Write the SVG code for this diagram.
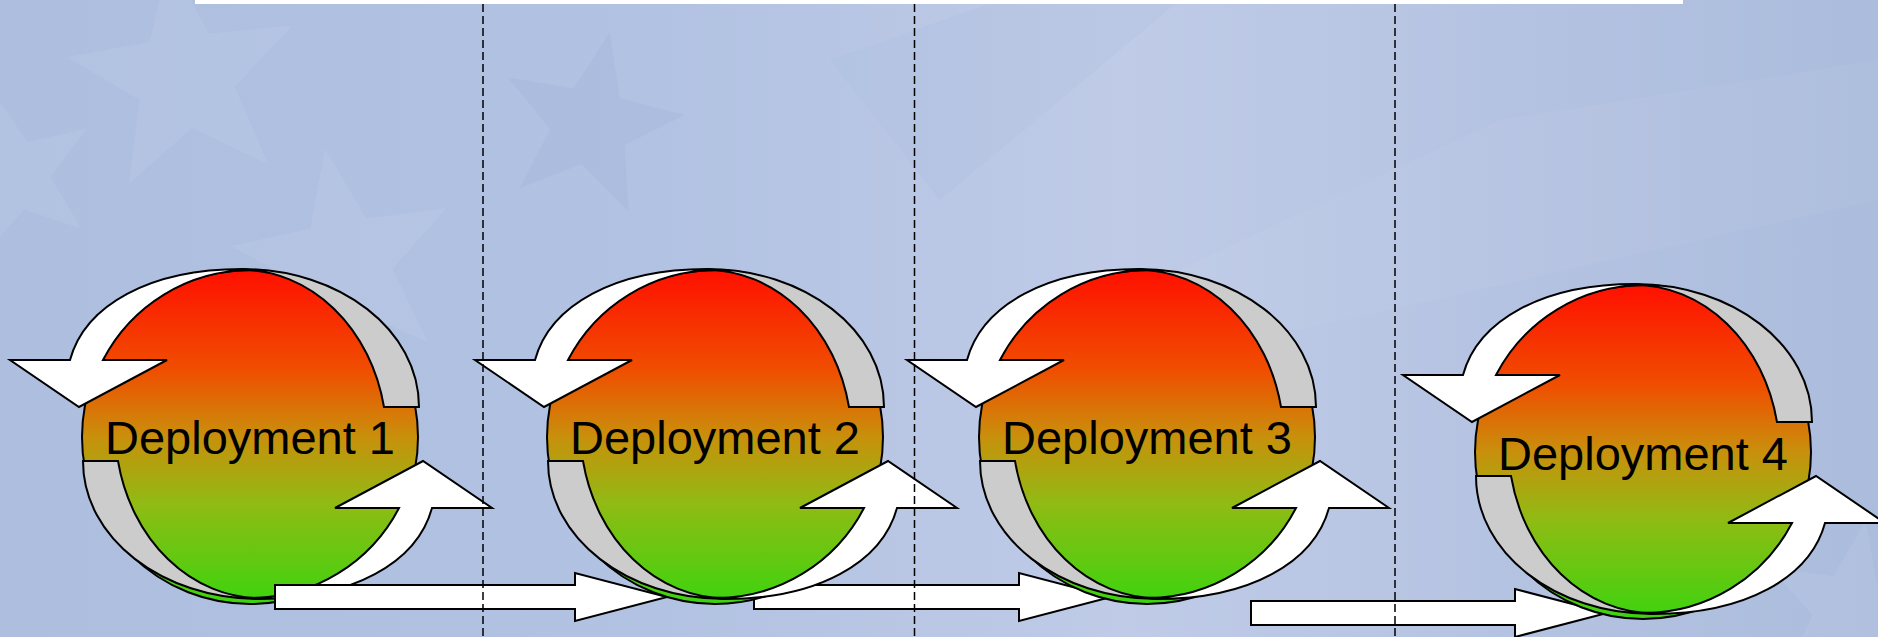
<svg xmlns="http://www.w3.org/2000/svg" xmlns:xlink="http://www.w3.org/1999/xlink" width="1878" height="637" viewBox="0 0 1878 637">
  <defs>
    <linearGradient id="bg" x1="0" y1="0" x2="1" y2="0">
      <stop offset="0" stop-color="#adbedf"/>
      <stop offset="0.35" stop-color="#b2c2e2"/>
      <stop offset="0.6" stop-color="#bfcbe7"/>
      <stop offset="0.8" stop-color="#b5c3e2"/>
      <stop offset="1" stop-color="#abbcdc"/>
    </linearGradient>
    <linearGradient id="ball" x1="0" y1="0" x2="0" y2="1">
      <stop offset="0" stop-color="#ff1000"/>
      <stop offset="0.3" stop-color="#f04e00"/>
      <stop offset="0.5" stop-color="#c8900c"/>
      <stop offset="0.7" stop-color="#90bb14"/>
      <stop offset="1" stop-color="#3cd40e"/>
    </linearGradient>
    <path id="star" d="M0,-1 L0.247,-0.34 L0.951,-0.309 L0.399,0.13 L0.588,0.809 L0,0.42 L-0.588,0.809 L-0.399,0.13 L-0.951,-0.309 L-0.247,-0.34 Z"/>
    <g id="band">
      <path class="white" d="M -8,-168 C -100,-168 -165,-132 -180,-77 L -240,-77 L -171,-30 L -83,-77 L -147,-77 A 167 167 0 0 1 0,-167 Z"/>
      <path class="gray" d="M -8,-168 C 90,-168 169,-107 169,-30 L 134,-30 A 145 170 0 0 0 -8,-167 Z"/>
    </g>
    <style>
      .white { fill: #ffffff; stroke: #000; stroke-width: 2; stroke-linejoin: miter; }
      .gray { fill: #cccccc; stroke: #000; stroke-width: 2; }
      .ball { fill: url(#ball); stroke: #000; stroke-width: 2; }
      .lbl { font-family: "Liberation Sans", Arial, sans-serif; font-size: 47px; fill: #000; text-anchor: middle; }
      .arrow { fill: #ffffff; stroke: #000; stroke-width: 2; }
      .sep { stroke: #000; stroke-width: 1.5; stroke-dasharray: 8 4; fill: none; }
      .lightstar { fill: #ffffff; fill-opacity: 0.07; }
      .darkstar { fill: #8ea2cf; fill-opacity: 0.14; }
    </style>
  </defs>

  <!-- background -->
  <rect x="0" y="0" width="1878" height="637" fill="url(#bg)"/>
  <g id="background-stars">
    <use xlink:href="#star" href="#star" class="lightstar" transform="translate(185,78) rotate(-8) scale(120)"/>
    <use xlink:href="#star" href="#star" class="lightstar" transform="translate(15,175) rotate(-15) scale(85)"/>
    <use xlink:href="#star" href="#star" class="lightstar" transform="translate(345,262) rotate(-10) scale(115)"/>
    <use xlink:href="#star" href="#star" class="darkstar" transform="translate(590,125) rotate(12) scale(95)"/>
    <use xlink:href="#star" href="#star" class="lightstar" transform="translate(1850,610) rotate(10) scale(90)"/>
    <polygon points="830,60 1000,0 1180,0 940,200" fill="#9fb2d8" fill-opacity="0.12"/>
    <polygon points="1050,330 1500,120 1878,60 1878,200 1300,330" fill="#ffffff" fill-opacity="0.04"/>
  </g>

  <!-- top bar -->
  <rect x="195" y="0" width="1488" height="4" fill="#ffffff"/>

  <g id="node1" transform="translate(250,437)">
    <ellipse class="ball" cx="0" cy="0" rx="168" ry="167"/>
    <use xlink:href="#band" href="#band"/>
    <use xlink:href="#band" href="#band" transform="rotate(180 1 -3)"/>
    <text class="lbl" x="0" y="17">Deployment 1</text>
  </g>

  <g id="connectors">
    <path class="arrow" d="M 275,585 L 575,585 L 575,573 L 667,597 L 575,621 L 575,609 L 275,609 Z"/>
    <path class="arrow" d="M 754,585 L 1019,585 L 1019,573 L 1111,597 L 1019,621 L 1019,609 L 754,609 Z"/>
    <path class="arrow" d="M 1251,601 L 1515,601 L 1515,589 L 1607,613 L 1515,637 L 1515,625 L 1251,625 Z"/>
  </g>

  <g id="node2" transform="translate(715,437)">
    <ellipse class="ball" cx="0" cy="0" rx="168" ry="167"/>
    <use xlink:href="#band" href="#band"/>
    <use xlink:href="#band" href="#band" transform="rotate(180 1 -3)"/>
    <text class="lbl" x="0" y="17">Deployment 2</text>
  </g>

  <g id="node3" transform="translate(1147,437)">
    <ellipse class="ball" cx="0" cy="0" rx="168" ry="167"/>
    <use xlink:href="#band" href="#band"/>
    <use xlink:href="#band" href="#band" transform="rotate(180 1 -3)"/>
    <text class="lbl" x="0" y="17">Deployment 3</text>
  </g>

  <g id="node4" transform="translate(1643,452)">
    <ellipse class="ball" cx="0" cy="0" rx="168" ry="167"/>
    <use xlink:href="#band" href="#band"/>
    <use xlink:href="#band" href="#band" transform="rotate(180 1 -3)"/>
    <text class="lbl" x="0" y="18">Deployment 4</text>
  </g>

  <g id="separators">
    <line class="sep" x1="483" y1="4" x2="483" y2="637"/>
    <line class="sep" x1="914.5" y1="4" x2="914.5" y2="637"/>
    <line class="sep" x1="1395" y1="4" x2="1395" y2="637"/>
  </g>
</svg>
